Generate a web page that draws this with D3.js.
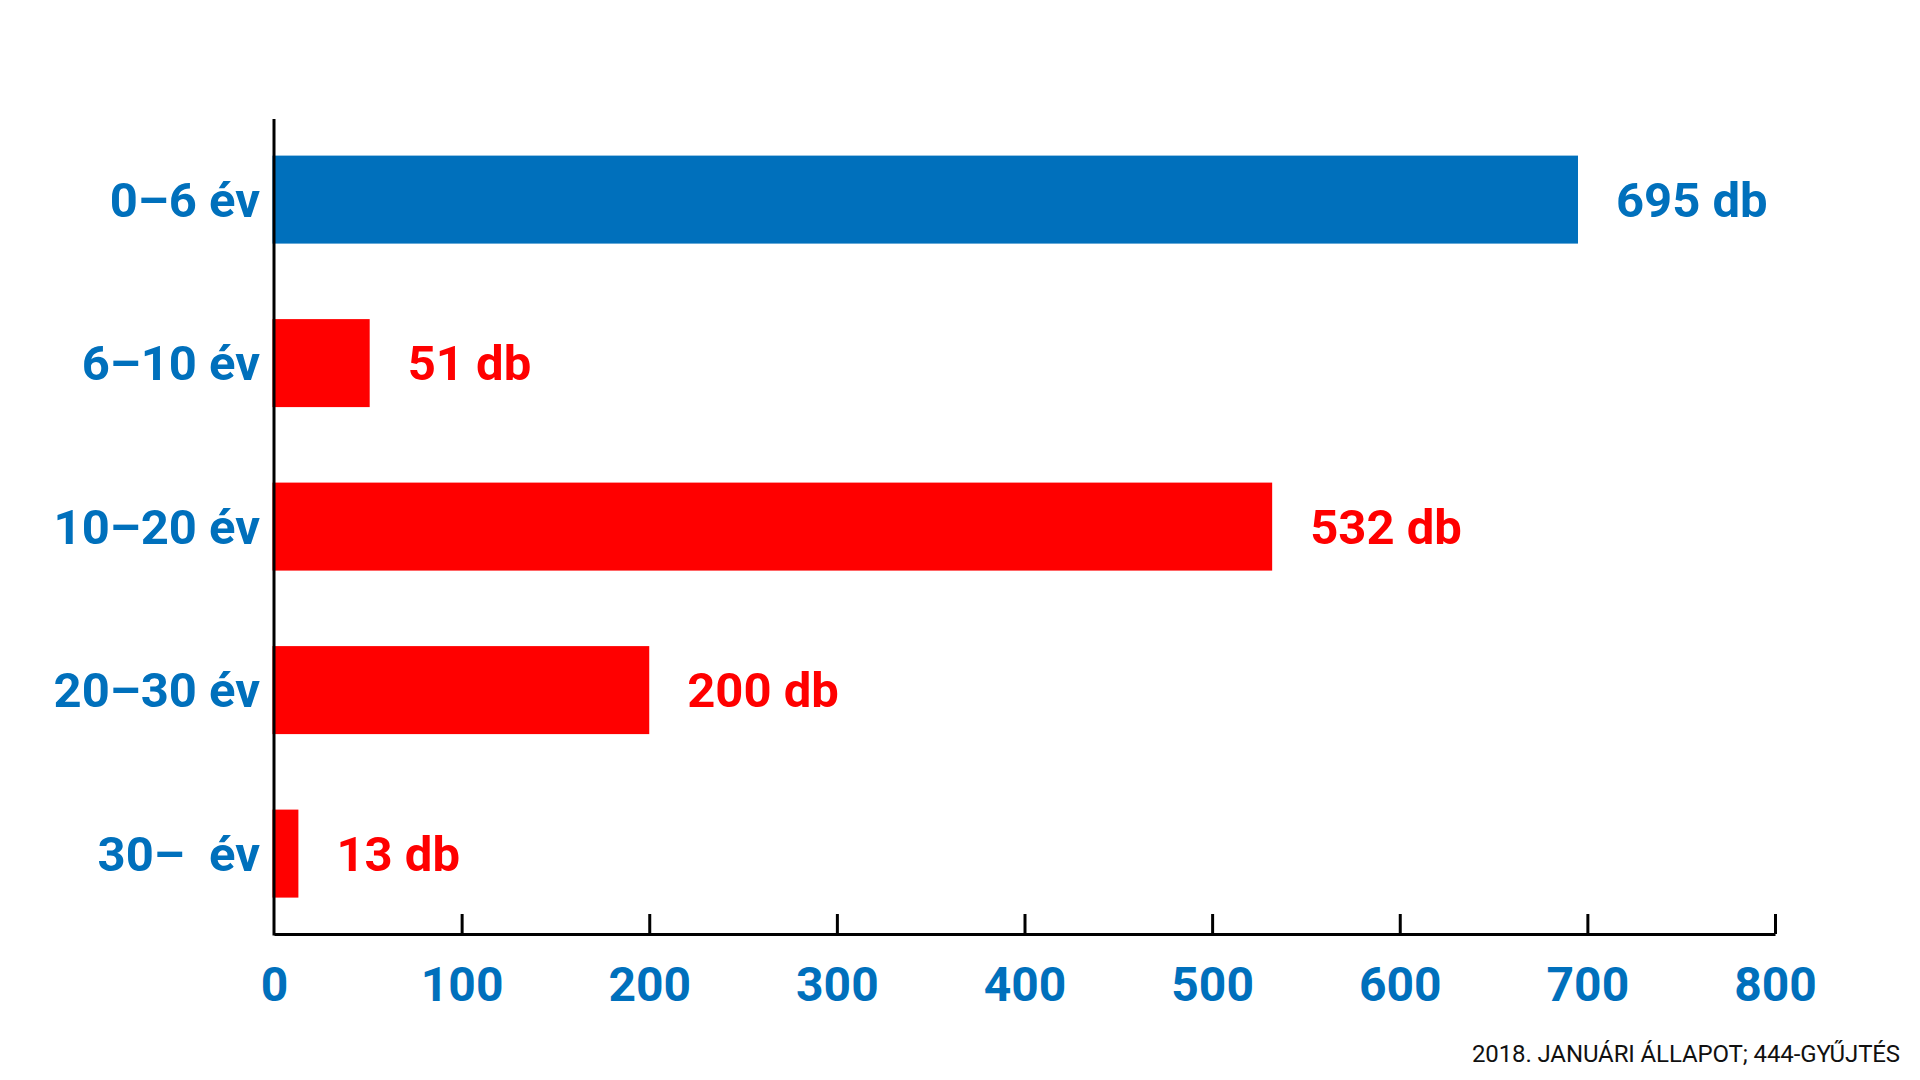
<!DOCTYPE html>
<html>
<head>
<meta charset="utf-8">
<script src="https://cdn.jsdelivr.net/npm/d3@7"></script>
<style>
  html, body { margin: 0; padding: 0; background: #fff; }
  svg { display: block; }
</style>
</head>
<body>
<svg id="chart" width="1920" height="1080"></svg>
<script>
const categories = ["0–6 év", "6–10 év", "10–20 év", "20–30 év", "30–  év"];
const values = [695, 51, 532, 200, 13];
const valueLabels = ["695 db", "51 db", "532 db", "200 db", "13 db"];
const barColors = ["#0070bc", "#ff0000", "#ff0000", "#ff0000", "#ff0000"];
const xTicks = [0, 100, 200, 300, 400, 500, 600, 700, 800];
const footnote = "2018. JANUÁRI ÁLLAPOT; 444-GYŰJTÉS";

const BLUE = "#0070bc";
const svg = d3.select("#chart");

const x = d3.scaleLinear().domain([0, 800]).range([274, 1775]);
const y = d3.scaleBand().domain(categories).range([155.6, 897.6])
  .paddingInner(0.4618).paddingOuter(0);

const font = "Roboto, 'Noto Sans', sans-serif";

// bars
svg.append("g").selectAll("rect").data(values).join("rect")
  .attr("x", x(0) - 1.5)
  .attr("y", (d, i) => y(categories[i]))
  .attr("width", d => x(d) - x(0) + 1.5)
  .attr("height", y.bandwidth())
  .attr("fill", (d, i) => barColors[i]);

// y axis line
svg.append("line")
  .attr("x1", x(0)).attr("x2", x(0))
  .attr("y1", 119).attr("y2", 935.5)
  .attr("stroke", "#000").attr("stroke-width", 3);

// x axis via d3
const xAxis = d3.axisBottom(x).tickValues(xTicks).tickSizeInner(-20).tickSizeOuter(0).tickFormat(d3.format("d"));
const gx = svg.append("g").attr("transform", "translate(0,934)").call(xAxis);
gx.select(".domain").attr("stroke", "#000").attr("stroke-width", 3);
gx.selectAll(".tick line").attr("stroke", "#000").attr("stroke-width", 3)
  .attr("display", d => d === 0 ? "none" : null);
gx.selectAll(".tick text")
  .attr("y", 0).attr("dy", 0)
  .attr("transform", "translate(0,67)")
  .attr("fill", BLUE)
  .style("font-family", font).style("font-weight", 700).style("font-size", "48px");

// category labels
svg.append("g").selectAll("text").data(categories).join("text")
  .attr("x", 260)
  .attr("y", d => y(d) + y.bandwidth() / 2)
  .attr("dy", "0.355em")
  .attr("text-anchor", "end")
  .attr("fill", BLUE)
  .style("white-space", "pre")
  .attr("xml:space", "preserve")
  .style("font-family", font).style("font-weight", 700).style("font-size", "49px")
  .text(d => d);

// value labels
svg.append("g").selectAll("text").data(values).join("text")
  .attr("x", d => x(d) + 38)
  .attr("y", (d, i) => y(categories[i]) + y.bandwidth() / 2)
  .attr("dy", "0.355em")
  .attr("fill", (d, i) => barColors[i])
  .style("font-family", font).style("font-weight", 700).style("font-size", "49px")
  .text((d, i) => valueLabels[i]);

// footnote (fit to reference width by letter spacing)
const fn = svg.append("text")
  .attr("x", 1900).attr("y", 1062)
  .attr("text-anchor", "end")
  .attr("fill", "#111")
  .style("font-family", font).style("font-weight", 400).style("font-size", "24px")
  .text(footnote);
const natural = fn.node().getComputedTextLength();
const ls = Math.max(-2.5, Math.min(1, (428 - natural) / footnote.length));
fn.style("letter-spacing", ls + "px");
</script>
</body>
</html>
